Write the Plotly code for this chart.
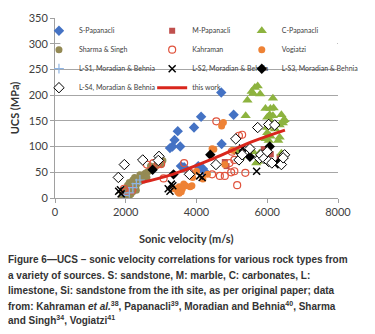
import plotly.graph_objects as go

# ---------------- data ----------------
s_pap_x = [3250, 3320, 3380, 3470, 3540, 3560, 3650, 3930, 4130, 4050, 4180, 4220, 4710, 5050, 4700]
s_pap_y = [97, 100, 113, 130, 100, 62, 60, 137, 158, 62, 57, 52, 105, 162, 205]

m_pap_x = [4800, 4850, 5250, 5900, 6100, 6350]
m_pap_y = [70, 62, 90, 95, 85, 80]

c_pap_x = [5650, 5730, 5560, 5600, 5800, 5440, 6160, 5950, 6180, 6090, 5390, 6040, 6070, 6160, 6400,
           6450, 6490, 6000, 6090, 6040, 6350, 6440, 6220, 6000, 6000, 5950, 6090, 6350, 6310, 6040,
           5160, 5240, 5600, 5780, 5690, 5730, 6400]
c_pap_y = [215, 218, 207, 203, 202, 190, 194, 174, 175, 174, 160, 159, 162, 160, 162,
           150, 152, 157, 150, 142, 142, 146, 134, 137, 127, 115, 120, 118, 112, 112,
           90, 80, 90, 87, 68, 71, 87]

sharma_x = [1900, 1920, 1950, 1980, 2000, 2020, 2050, 2080, 2100, 2120, 2150, 2180, 2200, 2230, 2250,
            2280, 2300, 2320, 2350, 2380, 2400, 2420, 2450, 2480, 2500, 2550, 2600, 2650, 2700, 2750,
            2800, 2850, 2900, 2950, 3000, 3050, 1950, 2000, 2100, 2200, 2100, 2250, 2300, 2400, 2500,
            2600, 2700, 2900, 3000, 2200, 2050, 1900, 2150]
sharma_y = [5, 2, 8, 12, 6, 18, 15, 20, 10, 25, 18, 28, 22, 30, 26,
            33, 25, 35, 30, 38, 32, 40, 36, 42, 45, 48, 50, 52, 55, 58,
            60, 62, 65, 70, 72, 73, 3, 1, 4, 12, 30, 40, 15, 45, 35,
            40, 62, 72, 65, 35, 25, 10, 8]

kahraman_x = [1950, 2180, 2000, 2600, 2780, 2900, 3000, 3070, 3650, 3800, 4440, 4560, 4660, 4800, 4930,
              4980, 5070, 5150, 5200, 5290, 5380, 5000, 5070]
kahraman_y = [18, 15, 13, 65, 68, 65, 66, 38, 68, 50, 46, 149, 43, 43, 68,
              50, 52, 25, 121, 123, 49, 90, 74]

vogiatzi_x = [3380, 3470, 3510, 3510, 3570, 3640, 3690, 3820, 3870, 3890, 4000, 4180, 4310, 4440, 4490,
              4710, 4760, 4800, 5020, 3600]
vogiatzi_y = [18, 12, 9, 22, 12, 27, 24, 22, 24, 40, 52, 37, 46, 96, 95,
              140, 147, 65, 93, 18]

ls1_x = [1950, 2100, 2200, 2300, 2400]
ls1_y = [5, 10, 20, 28, 35]

ls2_x = [1800, 1870, 1850, 3200, 3250, 3290, 3330, 4090, 4160, 5200, 5300, 5700]
ls2_y = [13, 8, 16, 18, 13, 27, 24, 43, 40, 82, 97, 52]

ls3_x = [2760, 3350, 4390, 5510, 6070, 6300]
ls3_y = [55, 46, 84, 80, 100, 67]

ls4_x = [1790, 1960, 2480, 2940, 2920, 3800, 4550, 5110, 5200, 5290, 5510, 5730, 6040, 6210, 5780,
         5820, 5910, 6000, 6040, 6130, 6400, 6490, 6450]
ls4_y = [40, 65, 74, 81, 73, 46, 65, 115, 74, 84, 96, 137, 143, 142, 77,
         84, 77, 90, 71, 68, 65, 84, 78]

work_x = [2450, 3330, 4490, 5555, 6500]
work_y = [30, 46, 77, 109, 132]

x_ticks = [0, 2000, 4000, 6000, 8000]
y_ticks = [0, 50, 100, 150, 200, 250, 300, 350]

caption_lines = [
    "Figure 6\u2014UCS \u2013 sonic velocity correlations for various rock types from",
    "a variety of sources. S: sandstone, M: marble, C: carbonates, L:",
    "limestone, Si: sandstone from the ith site, as per original paper; data",
    "from: Kahraman <i>et al.</i><sup>38</sup>, Papanacli<sup>39</sup>, Moradian and Behnia<sup>40</sup>, Sharma",
    "and Singh<sup>34</sup>, Vogiatzi<sup>41</sup>",
]

# ---------------- figure ----------------
fig = go.Figure()

def sc(name, x, y, symbol, color, size, legend, line_color=None, line_width=0):
    fig.add_trace(go.Scatter(
        x=x, y=y, mode="markers", name=name, legend=legend,
        marker=dict(symbol=symbol, color=color, size=size,
                    line=dict(color=line_color or color, width=line_width)),
    ))

sc("S-Papanacli", s_pap_x, s_pap_y, "diamond", "#4472C4", 8, "legend")
sc("M-Papanacli", m_pap_x, m_pap_y, "square", "#C0504D", 6, "legend2")
sc("C-Papanacli", c_pap_x, c_pap_y, "triangle-up", "#8DB33F", 9, "legend3")
sc("Sharma & Singh", sharma_x, sharma_y, "circle", "#948A54", 7, "legend")
sc("Kahraman", kahraman_x, kahraman_y, "circle-open", "#E0533D", 7, "legend2", "#E0533D", 1.2)
sc("Vogiatzi", vogiatzi_x, vogiatzi_y, "circle", "#EE8235", 7, "legend3")
sc("L-S1, Moradian & Behnia", ls1_x, ls1_y, "cross-thin", "#8EB4E3", 7, "legend", "#8EB4E3", 1.2)
sc("L-S2, Moradian & Behnia", ls2_x, ls2_y, "x-thin", "#000000", 7, "legend2", "#000000", 1.5)
sc("L-S3, Moradian & Behnia", ls3_x, ls3_y, "diamond", "#000000", 8, "legend3")
sc("L-S4, Moradian & Behnia", ls4_x, ls4_y, "diamond", "#FFFFFF", 8, "legend", "#000000", 1)

fig.add_trace(go.Scatter(
    x=work_x, y=work_y, mode="lines", name="this work", legend="legend2",
    line=dict(color="#D9261C", width=3, shape="spline"),
))

# plot area: left 55, top 11, width 300, height 187
caption_px = [262, 278, 294, 310, 325]
annotations = []
for line, py in zip(caption_lines, caption_px):
    annotations.append(dict(
        text="<b>" + line + "</b>", xref="paper", yref="paper",
        x=(3 - 55) / 300, y=(198 - py) / 187,
        xanchor="left", yanchor="middle", align="left", showarrow=False,
        font=dict(family="Liberation Sans, Arial, sans-serif", size=10, color="#333333"),
    ))
annotations.append(dict(
    text="<b>Sonic velocity (m/s)</b>", xref="paper", yref="paper",
    x=(194 - 55) / 300, y=(198 - 240) / 187, xanchor="center", yanchor="middle",
    showarrow=False, font=dict(size=11, color="#333333"),
))

leg_common = dict(orientation="v", yanchor="top", xanchor="left", bgcolor="rgba(0,0,0,0)",
                  font=dict(family="Lato, Arial, sans-serif", size=7, color="#404040"),
                  itemwidth=30, tracegroupgap=0)
y_top = 1.01

fig.update_layout(
    width=375, height=334,
    margin=dict(l=55, r=20, t=11, b=136),
    paper_bgcolor="white", plot_bgcolor="white",
    font=dict(family="Lato, Arial, sans-serif", color="#404040", size=11),
    showlegend=True,
    legend=dict(x=(38 - 55) / 300, y=y_top, **leg_common),
    legend2=dict(x=(158 - 55) / 300, y=y_top, **leg_common),
    legend3=dict(x=(253 - 55) / 300, y=y_top, **leg_common),
    xaxis=dict(
        range=[0, 8000], tickvals=x_ticks, showgrid=False,
        showline=True, linecolor="#A0A0A0", linewidth=1,
        ticks="outside", ticklen=4, tickcolor="#A0A0A0",
        zeroline=False,
    ),
    yaxis=dict(
        range=[0, 350], tickvals=y_ticks, showgrid=True, gridcolor="#A6A6A6", gridwidth=1,
        showline=True, linecolor="#A0A0A0", linewidth=1,
        ticks="outside", ticklen=4, tickcolor="#A0A0A0",
        title=dict(text="<b>UCS (MPa)</b>", font=dict(size=11, color="#333333"), standoff=6),
        zeroline=False,
    ),
    shapes=[dict(type="rect", xref="x", yref="y", x0=150, x1=7980,
                 y0=262, y1=347, layer="above",
                 fillcolor="white", line=dict(width=0))],
    annotations=annotations,
)

fig.write_html("out.html", config={"displayModeBar": False},
               post_script="document.body.style.margin='0';")
